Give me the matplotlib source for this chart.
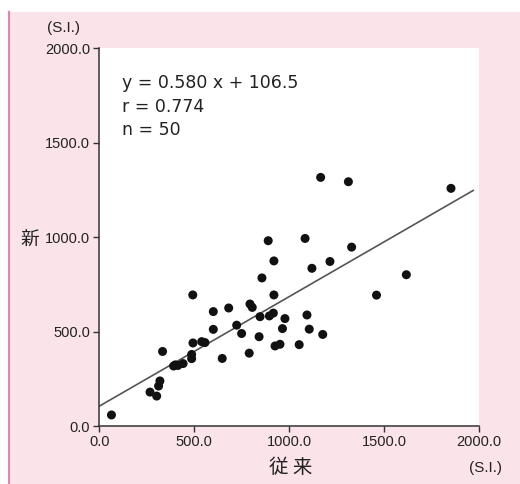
import matplotlib

matplotlib.use("Agg")
import matplotlib.pyplot as plt
from matplotlib.patches import Rectangle
from matplotlib.lines import Line2D

plt.rcParams["font.family"] = ["Liberation Sans", "Noto Sans CJK JP", "DejaVu Sans"]

# Scatter data (従来 vs 新, S.I. units)
old_vals = [64, 267, 302, 312, 319, 333, 391, 414, 441, 486,
            486, 493, 539, 556, 492, 600, 600, 647, 681, 723,
            749, 789, 793, 805, 841, 846, 856, 889, 895, 916,
            919, 919, 925, 951, 964, 977, 1052, 1083, 1093, 1105,
            1119, 1165, 1176, 1214, 1311, 1328, 1459, 1616, 1851, 400]
new_vals = [60, 181, 160, 213, 240, 396, 319, 322, 332, 358,
            380, 441, 448, 443, 695, 607, 513, 359, 626, 535,
            491, 387, 647, 629, 474, 580, 785, 982, 584, 599,
            875, 695, 425, 434, 517, 570, 432, 994, 589, 514,
            836, 1317, 486, 872, 1294, 948, 694, 802, 1259, 325]

slope = 0.580
intercept = 106.5
r_value = 0.774
line_x = [0, 1968]
ticks = [0, 500, 1000, 1500, 2000]
tick_labels = [f"{t:.1f}" for t in ticks]

PINK = "#fbe3ea"
INK = "#222222"

fig = plt.figure(figsize=(5.2, 4.84), dpi=100)
fig.patch.set_facecolor("white")
# pink panel with a darker left rule and white strip on top
fig.patches.append(Rectangle((9 / 520, 0), 1, 1 - 12 / 484, transform=fig.transFigure,
                             facecolor=PINK, edgecolor="none", zorder=-5))
fig.lines.append(Line2D([9 / 520, 9 / 520], [0, 1 - 12 / 484], transform=fig.transFigure,
                        color="#d68ab6", linewidth=1.6, zorder=-4))

ax = fig.add_axes([99.3 / 520, 57.7 / 484, 380 / 520, 378 / 484])
ax.set_facecolor("white")

ax.scatter(old_vals, new_vals, s=42, color="#111111", edgecolors="none", zorder=3)
ax.plot(line_x, [slope * x + intercept for x in line_x], color="#555555", linewidth=1.2, zorder=2)

ax.set_xlim(0, 2000)
ax.set_ylim(0, 2000)
ax.set_xticks(ticks)
ax.set_yticks(ticks)
ax.set_xticklabels(tick_labels)
ax.set_yticklabels(tick_labels)
for side in ("top", "right"):
    ax.spines[side].set_visible(False)
for side in ("left", "bottom"):
    ax.spines[side].set_color("#333333")
    ax.spines[side].set_linewidth(1.1)
ax.tick_params(direction="out", length=4.5, width=1.0, color="#333333",
               labelsize=10.5, labelcolor=INK, pad=2)

stats = [f"y = {slope:.3f} x + {intercept}", f"r = {r_value:.3f}", f"n = {len(old_vals)}"]
for i, line in enumerate(stats):
    ax.text(0.06, 0.908 - 0.062 * i, line, transform=ax.transAxes,
            fontsize=12.5, color=INK, va="center", family=["DejaVu Sans"])

fig.text(64 / 520, 1 - 28 / 484, "(S.I.)", fontsize=11, color=INK, ha="center", va="center")
fig.text(485 / 520, 1 - 468 / 484, "(S.I.)", fontsize=11, color=INK, ha="center", va="center")
fig.text(291 / 520, 1 - 467 / 484, "従 来", fontsize=14, color=INK, ha="center", va="center",
         family=["Noto Sans CJK JP", "DejaVu Sans"])
fig.text(30 / 520, 1 - 240 / 484, "新", fontsize=13.5, color=INK, ha="center", va="center",
         family=["Noto Sans CJK JP", "DejaVu Sans"])

fig.savefig("out.png", dpi=100, facecolor=fig.get_facecolor())
